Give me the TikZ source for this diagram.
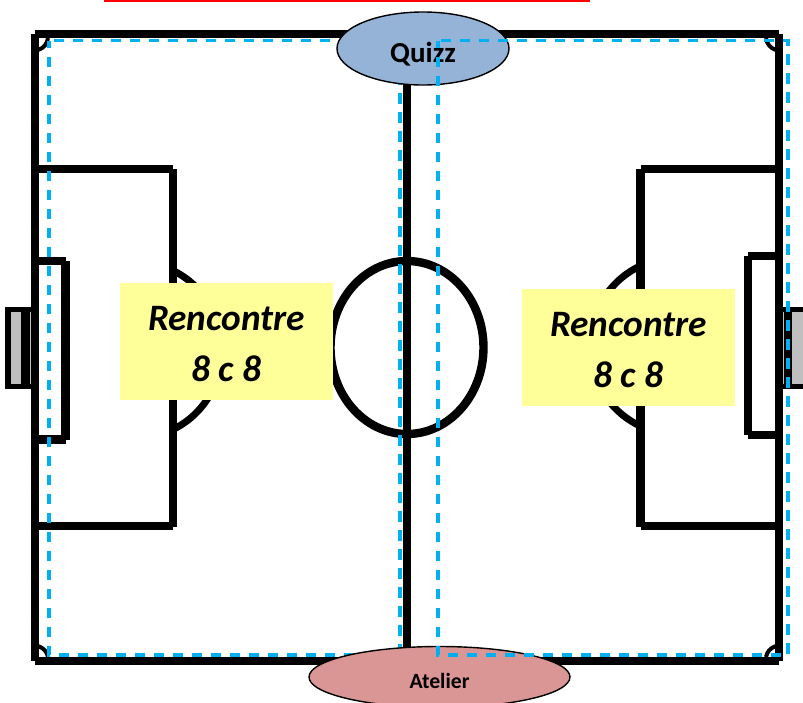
\documentclass[tikz,border=0pt]{standalone}
\usepackage{fontspec}
\setmainfont{Carlito}
\usetikzlibrary{shapes.geometric}
\definecolor{dashblue}{HTML}{00B0F0}
\definecolor{padyellow}{HTML}{FFFF99}
\definecolor{quizblue}{HTML}{95B3D7}
\definecolor{atelierred}{HTML}{D99694}
\definecolor{goalgrey}{HTML}{BFBFBF}
\tikzset{
  x=1pt,y=-1pt,
  pitch/.style={draw=black,line width=8.4pt,line cap=butt},
  cornerarc/.style={draw=black,line width=4pt},
  zone/.style={draw=dashblue,line width=3.05pt,dash pattern=on 10.5pt off 8.5pt,dash phase=3pt},
  goalframe/.style={fill=black},
  goalnet/.style={fill=goalgrey},
  matchbox/.style={rectangle,fill=padyellow,minimum width=213.5pt,minimum height=117pt,inner sep=0pt,align=center,font=\fontsize{37.3}{51}\selectfont\bfseries\itshape},
  station/.style={ellipse,draw=black,line width=1.4pt,inner sep=0pt,font=\bfseries}
}
\begin{document}
\begin{tikzpicture}
\useasboundingbox (0,0) rectangle (803,702);
\fill[white] (0,0) rectangle (803,702);
\draw[red,line width=3pt] (104,0) -- (590,0);
% goals
\fill[goalframe] (5,307) rectangle (31,389);
\fill[goalnet] (11,312) rectangle (21,384);
\fill[goalnet] (30,312) rectangle (31,384);
\fill[goalframe] (783,307) rectangle (803,389);
\fill[goalnet] (792,312) rectangle (803,384);
\fill[goalnet] (783,312) rectangle (784,384);
% pitch
\draw[pitch] (35,34) -- (779,34);
\draw[pitch] (35,661) -- (779,661);
\draw[pitch] (35,34) -- (35,661);
\draw[pitch] (779,34) -- (779,661);
\draw[pitch] (407,34) -- (407,661);
\draw[pitch] (407,347.5) ellipse [x radius=76.5pt,y radius=86.5pt];
% penalty areas
\draw[pitch] (35,169) -- (173,169);
\draw[pitch] (173,169) -- (173,526.5);
\draw[pitch] (35,526) -- (173,526);
\draw[pitch] (640.5,169) -- (779,169);
\draw[pitch] (640.5,169) -- (640.5,526.5);
\draw[pitch] (640.5,526) -- (779,526);
% goal areas
\draw[pitch] (35,261) -- (65.5,261);
\draw[pitch] (65.5,261) -- (65.5,440);
\draw[pitch] (35,439.5) -- (65.5,439.5);
\draw[pitch] (748,256) -- (779,256);
\draw[pitch] (748,256) -- (748,435);
\draw[pitch] (748,435) -- (779,435);
% penalty arcs
\begin{scope}
\clip (173,200) rectangle (300,500);
\draw[cornerarc,line width=7pt] (136,350) ellipse [x radius=86pt,y radius=88pt];
\end{scope}
\begin{scope}
\clip (641,200) rectangle (500,500);
\draw[cornerarc,line width=7pt] (676,346) ellipse [x radius=86pt,y radius=88pt];
\end{scope}
% corner arcs
\draw[cornerarc] (48,38) .. controls (47,44) and (44,48) .. (38,50);
\draw[cornerarc] (766,38) .. controls (767,44) and (770,48) .. (776,50);
\draw[cornerarc] (38,646) .. controls (44,648) and (47,652) .. (48,657);
\draw[cornerarc] (766,657) .. controls (767,652) and (770,648) .. (776,646);
% left zone lies below the stations
\draw[zone] (49,40.5) rectangle (400,655);
% match boxes
\node[matchbox] (left) at (226.5,341.5) {\rule{0pt}{30pt}Rencontre\\8 c 8};
\node[matchbox] (right) at (628.5,347.5) {\rule{0pt}{30pt}Rencontre\\8 c 8};
% stations
\node[station,fill=quizblue,minimum width=172pt,minimum height=73pt,text height=27pt,text depth=0pt,font=\fontsize{29}{29}\selectfont\bfseries] (quizz) at (423,48.5) {Quizz};
\node[station,fill=atelierred,minimum width=261pt,minimum height=61pt,text height=23pt,text depth=0pt,font=\fontsize{21.7}{21.7}\selectfont\bfseries] (atelier) at (439.5,677) {Atelier};
% right zone lies above the stations
\draw[zone] (438,40.5) rectangle (788,655);
\end{tikzpicture}
\end{document}
